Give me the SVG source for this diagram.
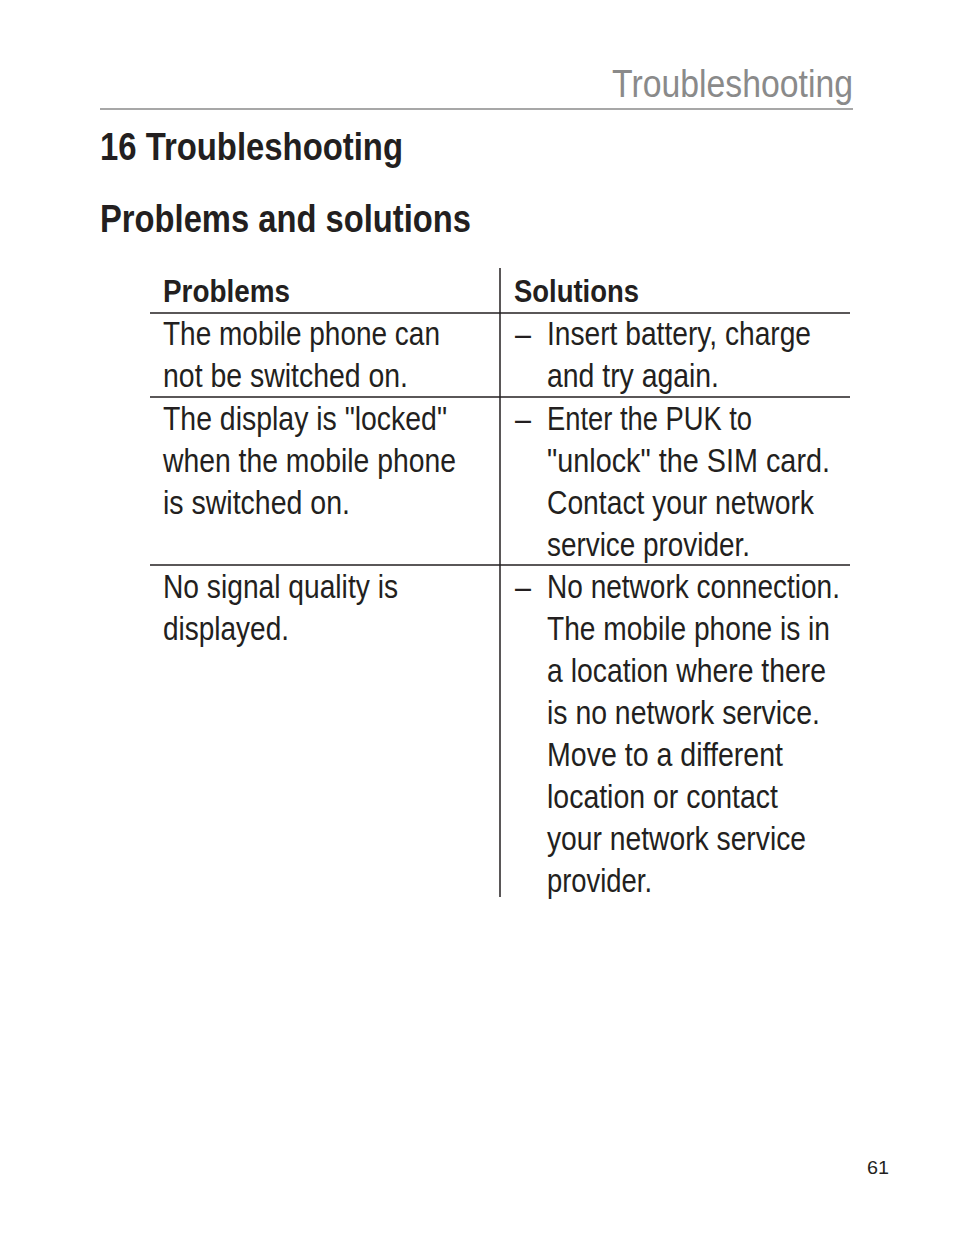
<svg xmlns="http://www.w3.org/2000/svg" width="954" height="1247" viewBox="0 0 954 1247">
<style>
text{font-family:"Liberation Sans",Arial,sans-serif;fill:#231f20}
.b{font-size:34px}
.h{font-size:39px}
.hb{font-size:39px;font-weight:bold}
.th{font-size:32px;font-weight:bold}
line{stroke:#231f20;stroke-width:1.5}
</style>
<rect width="954" height="1247" fill="#fff"/>
<text x="612" y="97" class="h" style="fill:#8a8a8a" textLength="241" lengthAdjust="spacingAndGlyphs">Troubleshooting</text>
<line x1="100" y1="109" x2="853" y2="109" style="stroke:#8a8a8a"/>
<text x="100" y="160" class="hb" textLength="303" lengthAdjust="spacingAndGlyphs">16 Troubleshooting</text>
<text x="100" y="232" class="hb" textLength="371" lengthAdjust="spacingAndGlyphs">Problems and solutions</text>
<line x1="500" y1="268" x2="500" y2="897"/>
<line x1="150" y1="313" x2="850" y2="313"/>
<line x1="150" y1="397" x2="850" y2="397"/>
<line x1="150" y1="565" x2="850" y2="565"/>
<text x="163" y="302" class="th" textLength="127" lengthAdjust="spacingAndGlyphs">Problems</text>
<text x="514" y="302" class="th" textLength="125" lengthAdjust="spacingAndGlyphs">Solutions</text>
<g class="b">
<text x="163" y="345" class="b" textLength="277" lengthAdjust="spacingAndGlyphs">The mobile phone can</text>
<text x="163" y="387" class="b" textLength="245" lengthAdjust="spacingAndGlyphs">not be switched on.</text>
<text x="163" y="430" class="b" textLength="284" lengthAdjust="spacingAndGlyphs">The display is "locked"</text>
<text x="163" y="472" class="b" textLength="293" lengthAdjust="spacingAndGlyphs">when the mobile phone</text>
<text x="163" y="514" class="b" textLength="187" lengthAdjust="spacingAndGlyphs">is switched on.</text>
<text x="163" y="598" class="b" textLength="235" lengthAdjust="spacingAndGlyphs">No signal quality is</text>
<text x="163" y="640" class="b" textLength="126" lengthAdjust="spacingAndGlyphs">displayed.</text>
<text x="515" y="345" class="b" textLength="16" lengthAdjust="spacingAndGlyphs">–</text>
<text x="515" y="430" class="b" textLength="16" lengthAdjust="spacingAndGlyphs">–</text>
<text x="515" y="598" class="b" textLength="16" lengthAdjust="spacingAndGlyphs">–</text>
<text x="547" y="345" class="b" textLength="264" lengthAdjust="spacingAndGlyphs">Insert battery, charge</text>
<text x="547" y="387" class="b" textLength="172" lengthAdjust="spacingAndGlyphs">and try again.</text>
<text x="547" y="430" class="b" textLength="205" lengthAdjust="spacingAndGlyphs">Enter the PUK to</text>
<text x="547" y="472" class="b" textLength="283" lengthAdjust="spacingAndGlyphs">"unlock" the SIM card.</text>
<text x="547" y="514" class="b" textLength="267" lengthAdjust="spacingAndGlyphs">Contact your network</text>
<text x="547" y="556" class="b" textLength="203" lengthAdjust="spacingAndGlyphs">service provider.</text>
<text x="547" y="598" class="b" textLength="293" lengthAdjust="spacingAndGlyphs">No network connection.</text>
<text x="547" y="640" class="b" textLength="283" lengthAdjust="spacingAndGlyphs">The mobile phone is in</text>
<text x="547" y="682" class="b" textLength="279" lengthAdjust="spacingAndGlyphs">a location where there</text>
<text x="547" y="724" class="b" textLength="273" lengthAdjust="spacingAndGlyphs">is no network service.</text>
<text x="547" y="766" class="b" textLength="236" lengthAdjust="spacingAndGlyphs">Move to a different</text>
<text x="547" y="808" class="b" textLength="231" lengthAdjust="spacingAndGlyphs">location or contact</text>
<text x="547" y="850" class="b" textLength="259" lengthAdjust="spacingAndGlyphs">your network service</text>
<text x="547" y="892" class="b" textLength="105" lengthAdjust="spacingAndGlyphs">provider.</text>
</g>
<text x="867" y="1174" style="font-size:19px" textLength="22" lengthAdjust="spacingAndGlyphs">61</text>
</svg>
